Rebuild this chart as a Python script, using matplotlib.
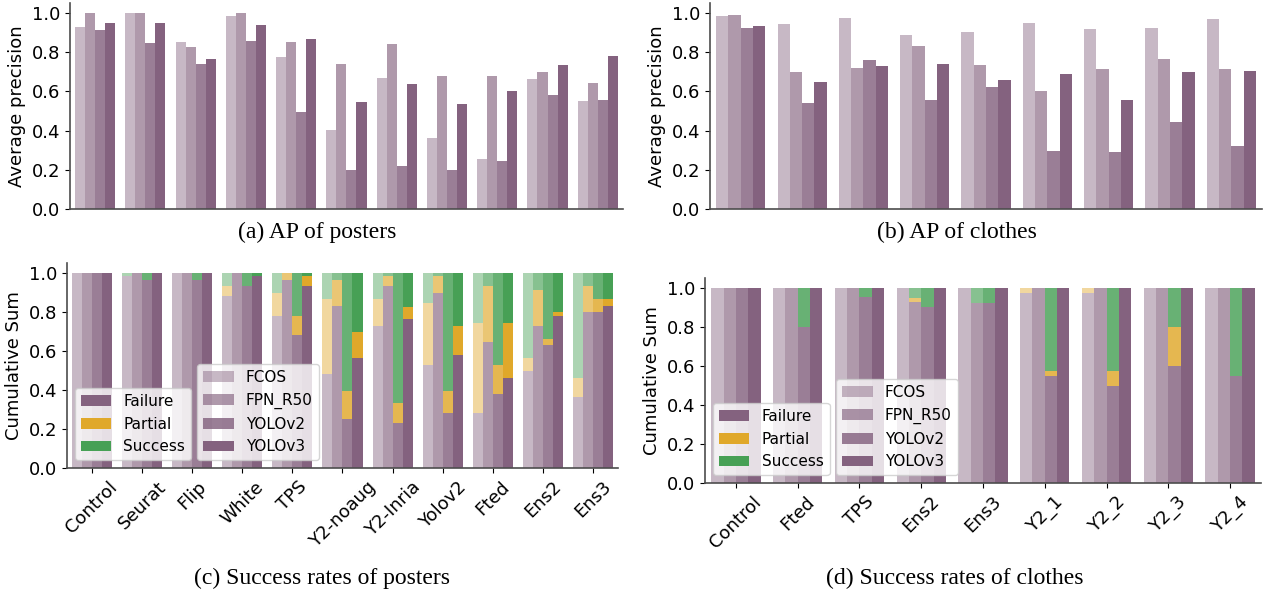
import numpy as np
import matplotlib
matplotlib.use("Agg")
import matplotlib.pyplot as plt
from matplotlib.patches import Patch

models = ["FCOS", "FPN_R50", "YOLOv2", "YOLOv3"]
alphas = [0.45, 0.65, 0.82, 1.0]
purple = "#84627f"
gold = "#e0a82a"
green = "#47a055"

poster_cats = ["Control", "Seurat", "Flip", "White", "TPS", "Y2-noaug",
               "Y2-Inria", "Yolov2", "Fted", "Ens2", "Ens3"]
cloth_cats = ["Control", "Fted", "TPS", "Ens2", "Ens3", "Y2_1", "Y2_2", "Y2_3", "Y2_4"]

# average precision, one list per model
ap_posters = {
    "FCOS":    [0.927, 0.998, 0.854, 0.983, 0.773, 0.402, 0.666, 0.361, 0.254, 0.661, 0.549],
    "FPN_R50": [0.998, 0.998, 0.824, 0.998, 0.854, 0.742, 0.844, 0.676, 0.676, 0.697, 0.641],
    "YOLOv2":  [0.915, 0.846, 0.742, 0.859, 0.495, 0.198, 0.219, 0.198, 0.244, 0.580, 0.554],
    "YOLOv3":  [0.951, 0.951, 0.763, 0.937, 0.869, 0.544, 0.636, 0.534, 0.600, 0.732, 0.778],
}
ap_clothes = {
    "FCOS":    [0.985, 0.944, 0.975, 0.889, 0.904, 0.949, 0.919, 0.924, 0.970],
    "FPN_R50": [0.990, 0.697, 0.717, 0.833, 0.732, 0.601, 0.712, 0.763, 0.712],
    "YOLOv2":  [0.924, 0.540, 0.758, 0.556, 0.621, 0.298, 0.293, 0.444, 0.323],
    "YOLOv3":  [0.934, 0.646, 0.727, 0.737, 0.657, 0.687, 0.556, 0.697, 0.702],
}

# cumulative sums: failure, failure + partial (success fills up to 1)
post_fail = {
    "FCOS":    [1.0, 0.983, 1.0, 0.881, 0.779, 0.479, 0.728, 0.530, 0.280, 0.499, 0.362],
    "FPN_R50": [1.0, 1.0, 1.0, 1.0, 0.963, 0.830, 0.932, 0.896, 0.647, 0.728, 0.800],
    "YOLOv2":  [1.0, 0.963, 0.963, 0.932, 0.681, 0.250, 0.229, 0.280, 0.379, 0.628, 0.800],
    "YOLOv3":  [1.0, 1.0, 1.0, 0.983, 0.932, 0.565, 0.761, 0.581, 0.463, 0.779, 0.830],
}
post_fp = {
    "FCOS":    [1.0, 0.983, 1.0, 0.932, 0.898, 0.868, 0.866, 0.846, 0.745, 0.565, 0.463],
    "FPN_R50": [1.0, 1.0, 1.0, 1.0, 1.0, 0.963, 0.983, 0.983, 0.932, 0.912, 0.932],
    "YOLOv2":  [1.0, 0.963, 0.963, 0.932, 0.779, 0.397, 0.331, 0.397, 0.526, 0.662, 0.866],
    "YOLOv3":  [1.0, 1.0, 1.0, 0.983, 0.983, 0.698, 0.827, 0.728, 0.745, 0.800, 0.866],
}
cloth_fail = {
    "FCOS":    [1.0, 1.0, 1.0, 1.0, 1.0, 0.975, 0.975, 1.0, 1.0],
    "FPN_R50": [1.0, 1.0, 1.0, 0.925, 0.924, 1.0, 1.0, 1.0, 1.0],
    "YOLOv2":  [1.0, 0.798, 0.951, 0.900, 0.924, 0.547, 0.497, 0.598, 0.547],
    "YOLOv3":  [1.0, 1.0, 1.0, 1.0, 1.0, 1.0, 1.0, 1.0, 1.0],
}
cloth_fp = {
    "FCOS":    [1.0, 1.0, 1.0, 1.0, 1.0, 1.0, 1.0, 1.0, 1.0],
    "FPN_R50": [1.0, 1.0, 1.0, 0.949, 0.924, 1.0, 1.0, 1.0, 1.0],
    "YOLOv2":  [1.0, 0.798, 0.951, 0.900, 0.924, 0.573, 0.573, 0.797, 0.547],
    "YOLOv3":  [1.0, 1.0, 1.0, 1.0, 1.0, 1.0, 1.0, 1.0, 1.0],
}

plt.rcParams["font.family"] = "DejaVu Sans"
plt.rcParams["font.size"] = 13

fig = plt.figure(figsize=(12.63, 5.94), dpi=100)
ax_a = fig.add_axes([0.0554, 0.648, 0.4378, 0.3468])
ax_b = fig.add_axes([0.5622, 0.648, 0.4370, 0.3468])
ax_c = fig.add_axes([0.0530, 0.2121, 0.4363, 0.3451])
ax_d = fig.add_axes([0.5582, 0.1869, 0.4402, 0.3451])

w = 0.2


def style(ax, n):
    ax.spines["top"].set_visible(False)
    ax.spines["right"].set_visible(False)
    for s in ("left", "bottom"):
        ax.spines[s].set_color("0.3")
        ax.spines[s].set_linewidth(1.2)
    ax.set_xlim(-0.5, n - 0.5)
    ax.set_ylim(0, 1.05)
    ax.set_yticks([0.0, 0.2, 0.4, 0.6, 0.8, 1.0])


def ap_plot(ax, cats, data):
    x = np.arange(len(cats))
    for i, m in enumerate(models):
        ax.bar(x + (i - 1.5) * w, data[m], w, color=purple, alpha=alphas[i], linewidth=0)
    style(ax, len(cats))
    ax.set_xticks([])
    ax.set_ylabel("Average precision")


def sr_plot(ax, cats, fail, fp):
    x = np.arange(len(cats))
    for i, m in enumerate(models):
        f = np.array(fail[m])
        c = np.array(fp[m])
        xi = x + (i - 1.5) * w
        ax.bar(xi, f, w, color=purple, alpha=alphas[i], linewidth=0)
        ax.bar(xi, c - f, w, bottom=f, color=gold, alpha=alphas[i], linewidth=0)
        ax.bar(xi, 1 - c, w, bottom=c, color=green, alpha=alphas[i], linewidth=0)
    style(ax, len(cats))
    ax.set_xticks(x)
    ax.set_xticklabels(cats, rotation=45)
    ax.set_ylabel("Cumulative Sum")
    h1 = [Patch(facecolor=c, linewidth=0) for c in (purple, gold, green)]
    leg1 = ax.legend(h1, ["Failure", "Partial", "Success"], loc="lower left", fontsize=11)
    ax.add_artist(leg1)
    h2 = [Patch(facecolor=purple, alpha=a, linewidth=0) for a in alphas]
    ax.legend(h2, models, loc="lower left", bbox_to_anchor=(0.222, 0), fontsize=11)


ap_plot(ax_a, poster_cats, ap_posters)
ap_plot(ax_b, cloth_cats, ap_clothes)
sr_plot(ax_c, poster_cats, post_fail, post_fp)
sr_plot(ax_d, cloth_cats, cloth_fail, cloth_fp)

cap = dict(family="Liberation Serif", fontsize=17, ha="center", va="center")
fig.text(0.251, 0.609, "(a) AP of posters", **cap)
fig.text(0.758, 0.609, "(b) AP of clothes", **cap)
fig.text(0.255, 0.027, "(c) Success rates of posters", **cap)
fig.text(0.756, 0.027, "(d) Success rates of clothes", **cap)

fig.savefig("out.png", dpi=100)
